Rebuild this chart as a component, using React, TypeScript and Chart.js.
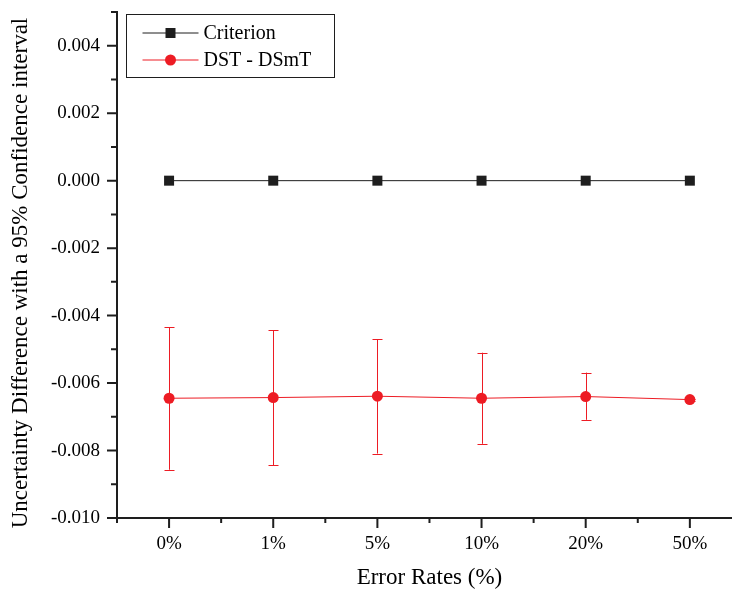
import React, { useEffect, useRef } from 'react';
import { Chart, registerables } from 'chart.js';

Chart.register(...registerables);

const categories = ['0%', '1%', '5%', '10%', '20%', '50%'];
const seriesNames = ['Criterion', 'DST - DSmT'];
const criterionValues = [0, 0, 0, 0, 0, 0];
const dstDsmtValues = [-0.00645, -0.00643, -0.00639, -0.00645, -0.0064, -0.00649];
const dstDsmtUpper = [-0.00434, -0.00443, -0.0047, -0.0051, -0.00569, -0.00646];
const dstDsmtLower = [-0.00857, -0.00844, -0.00809, -0.0078, -0.00709, -0.00652];
const yMin = -0.01;
const yMax = 0.005;
const yStep = 0.001;
const xTitle = 'Error Rates (%)';
const yTitle = 'Uncertainty Difference with a 95% Confidence interval';

const FONT = "'Liberation Serif', 'DejaVu Serif', serif";
const RED = '#ed1c24';
const BLACK = '#1e1e1e';

const errorBarPlugin = {
  id: 'errorBars',
  beforeDatasetsDraw(chart: any) {
    const meta = chart.getDatasetMeta(1);
    const ys = chart.scales.y;
    const ctx = chart.ctx;
    ctx.save();
    ctx.strokeStyle = RED;
    ctx.lineWidth = 1;
    meta.data.forEach((pt: any, i: number) => {
      const x = Math.round(pt.x) + 0.5;
      const yt = ys.getPixelForValue(dstDsmtUpper[i]);
      const yb = ys.getPixelForValue(dstDsmtLower[i]);
      ctx.beginPath();
      ctx.moveTo(x, yt);
      ctx.lineTo(x, yb);
      ctx.moveTo(x - 5, Math.round(yt) + 0.5);
      ctx.lineTo(x + 5, Math.round(yt) + 0.5);
      ctx.moveTo(x - 5, Math.round(yb) + 0.5);
      ctx.lineTo(x + 5, Math.round(yb) + 0.5);
      ctx.stroke();
    });
    ctx.restore();
  },
};

const axisTickPlugin = {
  id: 'axisTicks',
  afterDraw(chart: any) {
    const ctx = chart.ctx;
    const xs = chart.scales.x;
    const ys = chart.scales.y;
    const area = chart.chartArea;
    ctx.save();
    ctx.strokeStyle = BLACK;
    ctx.lineWidth = 2;
    ctx.beginPath();
    ys.ticks.forEach((t: any) => {
      const k = Math.round(t.value / yStep);
      const y = ys.getPixelForValue(t.value);
      const len = k % 2 === 0 ? 10 : 6;
      ctx.moveTo(area.left, y);
      ctx.lineTo(area.left - len, y);
    });
    const n = categories.length;
    for (let i = 0; i < n; i++) {
      const x = xs.getPixelForValue(i);
      ctx.moveTo(x, area.bottom);
      ctx.lineTo(x, area.bottom + 10);
    }
    for (let i = 0; i <= n; i++) {
      let x;
      if (i === 0) x = area.left;
      else if (i === n) x = area.right;
      else x = (xs.getPixelForValue(i - 1) + xs.getPixelForValue(i)) / 2;
      ctx.moveTo(x, area.bottom);
      ctx.lineTo(x, area.bottom + 5);
    }
    ctx.stroke();
    ctx.fillStyle = '#000';
    ctx.font = `23px ${FONT}`;
    ctx.textAlign = 'center';
    ctx.textBaseline = 'middle';
    ctx.translate(21, (area.top + area.bottom) / 2 + 8);
    ctx.rotate(-Math.PI / 2);
    ctx.fillText(yTitle, 0, 0);
    ctx.restore();
  },
};

const legendPlugin = {
  id: 'customLegend',
  afterDraw(chart: any) {
    const ctx = chart.ctx;
    const area = chart.chartArea;
    const bx = area.left + 9.5;
    const by = area.top + 2.5;
    const bw = 208;
    const bh = 63;
    ctx.save();
    ctx.fillStyle = '#fff';
    ctx.fillRect(bx, by, bw, bh);
    ctx.strokeStyle = BLACK;
    ctx.lineWidth = 1;
    ctx.strokeRect(bx, by, bw, bh);
    const rows = [by + 18.5, by + 45.5];
    const colors = [BLACK, RED];
    seriesNames.forEach((name, i) => {
      const y = rows[i];
      const x0 = bx + 16;
      const x1 = bx + 72;
      const xm = (x0 + x1) / 2;
      ctx.strokeStyle = colors[i];
      ctx.lineWidth = 1;
      ctx.beginPath();
      ctx.moveTo(x0, y);
      ctx.lineTo(x1, y);
      ctx.stroke();
      ctx.fillStyle = colors[i];
      if (i === 0) {
        ctx.fillRect(xm - 5, y - 5, 10, 10);
      } else {
        ctx.beginPath();
        ctx.arc(xm, y, 5.5, 0, Math.PI * 2);
        ctx.fill();
      }
      ctx.fillStyle = '#000';
      ctx.font = `20px ${FONT}`;
      ctx.textBaseline = 'middle';
      ctx.textAlign = 'left';
      ctx.fillText(name, x1 + 5, y + 1);
    });
    ctx.restore();
  },
};

export default function App() {
  const ref = useRef<HTMLCanvasElement | null>(null);
  useEffect(() => {
    if (!ref.current) return;
    const chart = new Chart(ref.current, {
      type: 'line',
      data: {
        labels: categories,
        datasets: [
          {
            label: seriesNames[0],
            data: criterionValues,
            borderColor: BLACK,
            borderWidth: 1,
            backgroundColor: BLACK,
            pointStyle: 'rect',
            pointRadius: 7.07,
            pointBorderWidth: 0,
            pointBackgroundColor: BLACK,
          },
          {
            label: seriesNames[1],
            data: dstDsmtValues,
            borderColor: RED,
            borderWidth: 1,
            backgroundColor: RED,
            pointStyle: 'circle',
            pointRadius: 5.5,
            pointBorderWidth: 0,
            pointBackgroundColor: RED,
          },
        ],
      },
      options: {
        responsive: false,
        animation: false,
        layout: { padding: { top: 12, right: 3, bottom: 0, left: 0 } },
        plugins: {
          legend: { display: false },
          tooltip: { enabled: false },
        },
        scales: {
          x: {
            type: 'category',
            offset: true,
            grid: { display: false, drawTicks: false, tickLength: 0 },
            border: { display: true, color: BLACK, width: 2 },
            ticks: {
              color: '#000',
              font: { family: FONT, size: 19 },
              padding: 15,
              maxRotation: 0,
              autoSkip: false,
            },
            title: {
              display: true,
              text: xTitle,
              color: '#000',
              font: { family: FONT, size: 23 },
              padding: { top: 0, bottom: 0 },
            },
            afterFit(scale: any) {
              scale.height = 74;
              scale.paddingLeft = 0;
              scale.paddingRight = 0;
            },
          },
          y: {
            type: 'linear',
            min: yMin,
            max: yMax,
            grid: { display: false, drawTicks: false, tickLength: 0 },
            border: { display: true, color: BLACK, width: 2 },
            ticks: {
              stepSize: yStep,
              color: '#000',
              font: { family: FONT, size: 19 },
              padding: 17,
              autoSkip: false,
              callback: (v: any) => {
                const k = Math.round(Number(v) / yStep);
                if (k % 2 !== 0) return '';
                return (k * yStep).toFixed(3);
              },
            },
            title: { display: false },
            afterFit(scale: any) {
              scale.width = 117;
              scale.paddingTop = 0;
              scale.paddingBottom = 0;
            },
          },
        },
      },
      plugins: [errorBarPlugin, axisTickPlugin, legendPlugin],
    });
    return () => chart.destroy();
  }, []);
  return (
    <div
      style={{
        position: 'fixed',
        left: 0,
        top: 0,
        width: 732,
        height: 592,
        overflow: 'hidden',
        background: '#fff',
      }}
    >
      <canvas ref={ref} width={749} height={592} style={{ width: 749, height: 592, display: 'block' }} />
    </div>
  );
}
